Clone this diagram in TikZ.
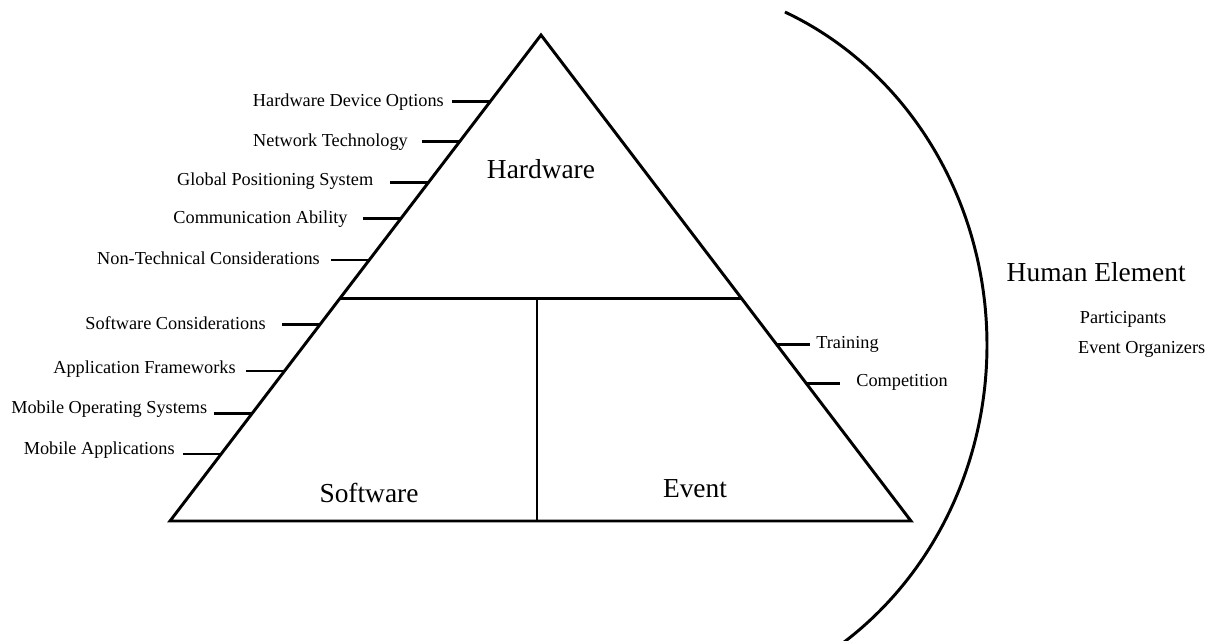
\documentclass[tikz,border=0pt]{standalone}
\usepackage{fontspec}
\setmainfont{Liberation Serif}
\usetikzlibrary{calc}

\begin{document}
\begin{tikzpicture}[x=0.025cm, y=0.025cm,
  edge/.style={line width=2.1pt, line join=miter},
  tick/.style={line width=2pt},
  lbl/.style={font=\fontsize{13}{15}\selectfont, inner sep=0pt, anchor=base},
  big/.style={font=\fontsize{19.5}{22}\selectfont, inner sep=0pt, anchor=base},
]
\useasboundingbox (0,0) rectangle (1215,-640);

% Pyramid
\coordinate (apex) at (541,-35);
\coordinate (bl) at (170,-521);
\coordinate (br) at (911,-521);
\coordinate (ml) at ($(apex)!0.5412!(bl)$);
\coordinate (mr) at ($(apex)!0.5412!(br)$);
\coordinate (mt) at (537,-298);
\coordinate (mb) at (537,-521);
\draw[edge] (apex) -- (bl) -- (br) -- cycle;
\draw[edge] (ml) -- (mr);
\draw[edge] (mt) -- (mb);

% Section names
\node[big] (hw) at (541,-178.3) {Hardware};
\node[big] (sw) at (369,-502.7) {Software};
\node[big] (ev) at (695,-497.7) {Event};

% Hardware items
\coordinate (s1) at ($(apex)!0.1372!(bl)$);
\coordinate (s2) at ($(apex)!0.2195!(bl)$);
\coordinate (s3) at ($(apex)!0.3039!(bl)$);
\coordinate (s4) at ($(apex)!0.3772!(bl)$);
\coordinate (s5) at ($(apex)!0.4630!(bl)$);
\draw[tick] (s1) -- ++(-38,0) coordinate (t1);
\draw[tick] (s2) -- ++(-38,0) coordinate (t2);
\draw[tick] (s3) -- ++(-38,0) coordinate (t3);
\draw[tick] (s4) -- ++(-38,0) coordinate (t4);
\draw[tick] (s5) -- ++(-38,0) coordinate (t5);
\node[lbl] (hdo) at (348.4,-106.7) {Hardware Device Options};
\node[lbl] (nt) at (330.5,-146.7) {Network Technology};
\node[lbl] (gps) at (275.2,-185) {Global Positioning System};
\node[lbl] (ca) at (260.5,-223.3) {Communication Ability};
\node[lbl] (ntc) at (208.5,-264.3) {Non-Technical Considerations};

% Software items
\coordinate (s6) at ($(apex)!0.5953!(bl)$);
\coordinate (s7) at ($(apex)!0.6914!(bl)$);
\coordinate (s8) at ($(apex)!0.7784!(bl)$);
\coordinate (s9) at ($(apex)!0.8621!(bl)$);
\draw[tick] (s6) -- ++(-38,0) coordinate (t6);
\draw[tick] (s7) -- ++(-38,0) coordinate (t7);
\draw[tick] (s8) -- ++(-38,0) coordinate (t8);
\draw[tick] (s9) -- ++(-38,0) coordinate (t9);
\node[lbl] (sc) at (175.5,-329.3) {Software Considerations};
\node[lbl] (af) at (144.5,-373.3) {Application Frameworks};
\node[lbl] (mos) at (109.3,-413.3) {Mobile Operating Systems};
\node[lbl] (ma) at (99.2,-454) {Mobile Applications};

% Event items
\coordinate (e1) at ($(apex)!0.6364!(br)$);
\coordinate (e2) at ($(apex)!0.7167!(br)$);
\draw[tick] (e1) -- ++(34,0) coordinate (u1);
\draw[tick] (e2) -- ++(34,0) coordinate (u2);
\node[lbl] (tr) at (847.5,-348.3) {Training};
\node[lbl] (cp) at (902,-386.7) {Competition};

% Human element
\draw[edge] plot[domain=66.4:-56, samples=90, smooth] ({650+337*cos(\x)}, {-345+363.4*sin(\x)});
\node[big] (he) at (1096.2,-281.7) {Human Element};
\node[lbl] (pa) at (1123,-323.3) {Participants};
\node[lbl] (eo) at (1141.7,-353.3) {Event Organizers};

\end{tikzpicture}
\end{document}
